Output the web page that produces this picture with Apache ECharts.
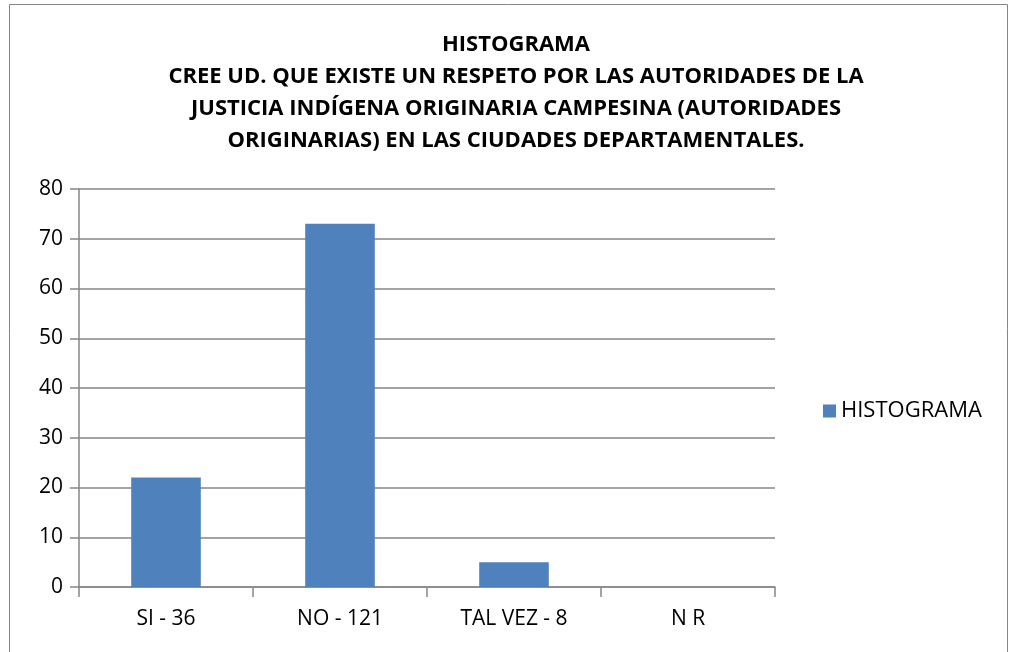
<!DOCTYPE html>
<html>
<head>
<meta charset="utf-8">
<script src="https://cdn.jsdelivr.net/npm/echarts@6/dist/echarts.min.js"></script>
<style>
	html, body { margin: 0; padding: 0; background: #fff; }
	#chart { width: 1011px; height: 652px; }
</style>
</head>
<body>
<div id="chart"></div>
<script>
const titleLines = [
	"HISTOGRAMA",
	"CREE UD. QUE EXISTE UN RESPETO POR LAS AUTORIDADES DE LA",
	"JUSTICIA INDÍGENA ORIGINARIA CAMPESINA (AUTORIDADES",
	"ORIGINARIAS) EN LAS CIUDADES DEPARTAMENTALES.",
];
const categories = ["SI - 36", "NO - 121", "TAL VEZ - 8", "N R"];
const histogramValues = [22, 73, 5, 0];
const seriesName = "HISTOGRAMA";

const font = "'Open Sans', 'Liberation Sans', sans-serif";
const axisGray = "#868686";

const myChart = echarts.init(document.getElementById("chart"), null, { renderer: "canvas" });

myChart.setOption({
	animation: false,
	backgroundColor: "#ffffff",
	textStyle: { fontFamily: font },
	graphic: [
		{
			type: "rect",
			shape: { x: 9.5, y: 4.5, width: 998, height: 660 },
			style: { fill: null, stroke: axisGray, lineWidth: 1 },
			silent: true,
		},
	],
	title: {
		text: titleLines.join("\n"),
		left: 511,
		top: 24,
		textAlign: "center",
		textStyle: {
			fontFamily: font,
			fontSize: 22,
			fontWeight: "bold",
			color: "#000",
			lineHeight: 32,
		},
	},
	legend: {
		data: [seriesName],
		left: 818,
		top: 395,
		orient: "vertical",
		itemWidth: 13,
		itemHeight: 13,
		itemGap: 10,
		icon: "rect",
		textStyle: { fontFamily: font, fontSize: 22, color: "#000" },
	},
	grid: {
		left: 79,
		top: 189,
		width: 696,
		height: 398,
		containLabel: false,
	},
	xAxis: {
		type: "category",
		data: categories,
		axisLine: { lineStyle: { color: axisGray, width: 1.5 } },
		axisTick: { show: true, alignWithLabel: false, length: 10, lineStyle: { color: axisGray, width: 1.5 } },
		axisLabel: { color: "#000", fontSize: 21, fontFamily: font, margin: 22 },
		splitLine: { show: false },
	},
	yAxis: {
		type: "value",
		min: 0,
		max: 80,
		interval: 10,
		axisLine: { show: true, lineStyle: { color: axisGray, width: 1.5 } },
		axisTick: { show: true, length: 9, lineStyle: { color: axisGray, width: 1.5 } },
		axisLabel: { color: "#000", fontSize: 21, fontFamily: font, margin: 16 },
		splitLine: { show: true, lineStyle: { color: axisGray, width: 1.5 } },
	},
	series: [
		{
			name: seriesName,
			type: "bar",
			data: histogramValues,
			barWidth: "40%",
			itemStyle: { color: "#4f81bd" },
		},
	],
});
</script>
</body>
</html>
